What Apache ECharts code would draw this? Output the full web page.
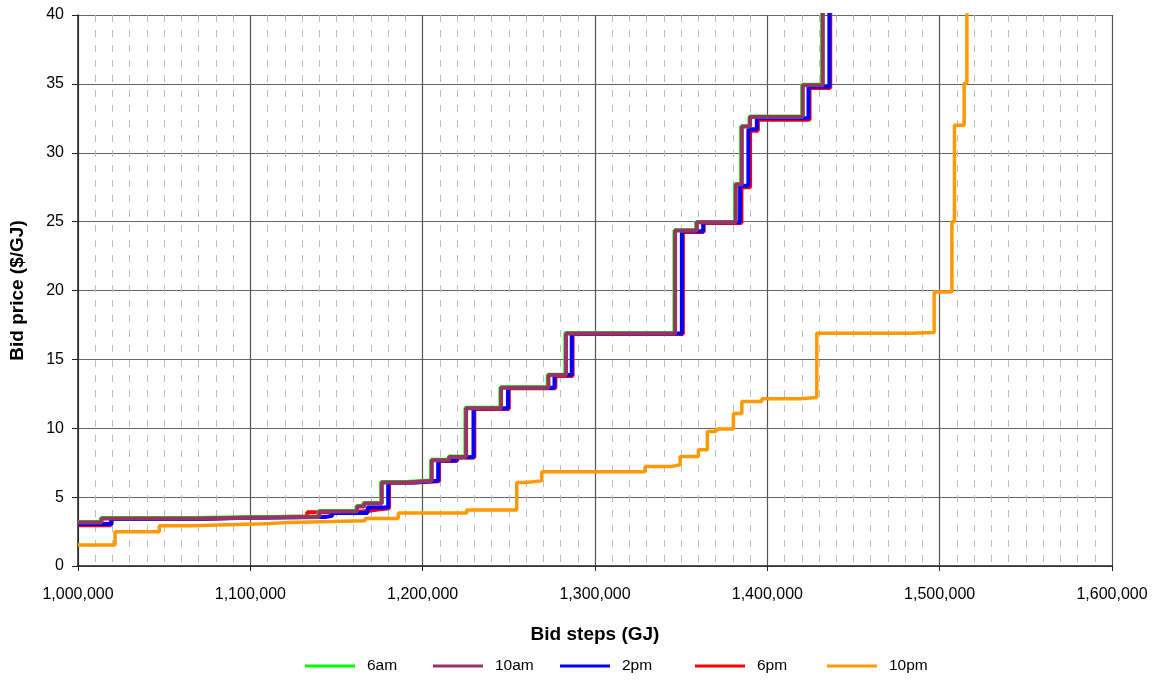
<!DOCTYPE html>
<html>
<head>
<meta charset="utf-8">
<title>Bid steps</title>
<script src="https://cdn.jsdelivr.net/npm/echarts@6/dist/echarts.min.js"></script>
<style>
  html, body { margin: 0; padding: 0; background: #fff; }
  #chart { width: 1168px; height: 682px; }
</style>
</head>
<body>
<div id="chart"></div>
<script>
// bid stacks: each [x, price] = price level that starts at x (GJ)
var am6 = [
  [1000000, 3.19], [1013300, 3.48], [1067600, 3.53], [1096600, 3.6], [1139600, 3.99],
  [1161600, 4.35], [1165600, 4.57], [1175900, 6.09], [1190400, 6.21], [1204900, 7.71],
  [1215100, 7.95], [1224800, 11.48], [1245100, 12.97], [1272600, 13.89], [1282800, 16.91],
  [1346100, 24.38], [1358700, 24.98], [1381300, 27.73], [1384800, 31.93], [1389600, 32.63],
  [1420200, 34.93], [1431800, 45]
];
var am10 = [
  [1000000, 3.16], [1013700, 3.45], [1068000, 3.5], [1097000, 3.57], [1140000, 3.96],
  [1162000, 4.32], [1166000, 4.54], [1176300, 6.06], [1190800, 6.18], [1205300, 7.68],
  [1215500, 7.92], [1225200, 11.45], [1245500, 12.94], [1273000, 13.86], [1283200, 16.88],
  [1346500, 24.35], [1359100, 24.95], [1381700, 27.7], [1385200, 31.9], [1390000, 32.6],
  [1420600, 34.9], [1432200, 45]
];
var pm2 = [
  [1000000, 3.05], [1019500, 3.42], [1068000, 3.5], [1100000, 3.55], [1143500, 3.65],
  [1147500, 3.85], [1168000, 4.25], [1180000, 6.06], [1194500, 6.18], [1209000, 7.65],
  [1219500, 7.9], [1229500, 11.45], [1249500, 12.94], [1276500, 13.86], [1286500, 16.88],
  [1350400, 24.3], [1362800, 24.95], [1384200, 27.6], [1389000, 31.7], [1393900, 32.5],
  [1423900, 34.8], [1436000, 45]
];
var pm6 = [
  [1000000, 2.95], [1019000, 3.42], [1068000, 3.5], [1092000, 3.6], [1133000, 3.9],
  [1160000, 4.0], [1168000, 4.1], [1174000, 4.2], [1180500, 6.06], [1195000, 6.16],
  [1209500, 7.63], [1220000, 7.88], [1230000, 11.4], [1250000, 12.9], [1277000, 13.8],
  [1287000, 16.85], [1351000, 24.25], [1363000, 24.9], [1385000, 27.5], [1390000, 31.6],
  [1394500, 32.4], [1424500, 34.7], [1436500, 45]
];
var pm10 = [
  [1000000, 1.52], [1021500, 2.49], [1047200, 2.92], [1064600, 3.04], [1103700, 3.16],
  [1122000, 3.28], [1166600, 3.45], [1185900, 3.85], [1225600, 4.06], [1254600, 6.06],
  [1259400, 6.18], [1269100, 6.84], [1329100, 7.23], [1344600, 7.35], [1349400, 7.95],
  [1360000, 8.44], [1365200, 9.77], [1370300, 9.94], [1380300, 11.07], [1385200, 11.94],
  [1396800, 12.14], [1419000, 12.24], [1428700, 16.9], [1482900, 16.95], [1496800, 19.9],
  [1507100, 25.0], [1508600, 32.0], [1514200, 35.05], [1515800, 45]
];

var names = ["6am", "10am", "2pm", "6pm", "10pm"];
var colors = { "6am": "#00ff00", "10am": "#993366", "2pm": "#0000ff", "6pm": "#ff0000", "10pm": "#ff9900" };
var legendLeft = [305, 433, 560, 695, 827];

var font = "Liberation Sans, Arial, sans-serif";

function fmt(v) {
  return String(v).replace(/\B(?=(\d{3})+(?!\d))/g, ",");
}

function stepLine(name, data, width) {
  return {
    name: name,
    type: "line",
    step: "end",
    data: data,
    symbol: "none",
    clip: true,
    color: colors[name],
    lineStyle: { width: width, color: colors[name] }
  };
}

var legends = names.map(function (n, i) {
  return {
    data: [n],
    left: legendLeft[i],
    top: 658,
    padding: 0,
    icon: "rect",
    itemWidth: 50,
    itemHeight: 3,
    selectedMode: false,
    textStyle: { fontFamily: font, fontSize: 15.5, color: "#000", padding: [0, 0, 0, 7] }
  };
});

var chart = echarts.init(document.getElementById("chart"));
chart.setOption({
  animation: false,
  backgroundColor: "#fff",
  grid: { left: 78, right: 56, top: 15, bottom: 116 },
  legend: legends,
  xAxis: {
    type: "value",
    min: 1000000,
    max: 1600000,
    interval: 100000,
    name: "Bid steps (GJ)",
    nameLocation: "middle",
    nameGap: 59,
    nameTextStyle: { fontFamily: font, fontSize: 19, fontWeight: "bold", color: "#000" },
    axisLine: { lineStyle: { color: "#222", width: 1.5 } },
    axisTick: { show: true, length: 5, lineStyle: { color: "#222" } },
    axisLabel: { fontFamily: font, fontSize: 16, color: "#000", margin: 21, formatter: fmt },
    splitLine: { show: true, lineStyle: { color: "#555", width: 1.2 } },
    minorTick: { show: false, splitNumber: 10 },
    minorSplitLine: { show: true, lineStyle: { color: "#bdbdbd", type: [7, 8], width: 1 } }
  },
  yAxis: {
    type: "value",
    min: 0,
    max: 40,
    interval: 5,
    name: "Bid price ($/GJ)",
    nameLocation: "middle",
    nameGap: 51,
    nameTextStyle: { fontFamily: font, fontSize: 19, fontWeight: "bold", color: "#000" },
    axisLine: { show: true, lineStyle: { color: "#222", width: 1.5 } },
    axisTick: { show: true, length: 6, lineStyle: { color: "#222" } },
    axisLabel: { fontFamily: font, fontSize: 16, color: "#000", margin: 14 },
    splitLine: { show: true, lineStyle: { color: "#666", width: 1.2 } }
  },
  series: [
    stepLine("6pm", pm6, 4),
    stepLine("2pm", pm2, 4),
    stepLine("6am", am6, 4),
    stepLine("10am", am10, 4),
    stepLine("10pm", pm10, 3.5)
  ]
});
</script>
</body>
</html>
